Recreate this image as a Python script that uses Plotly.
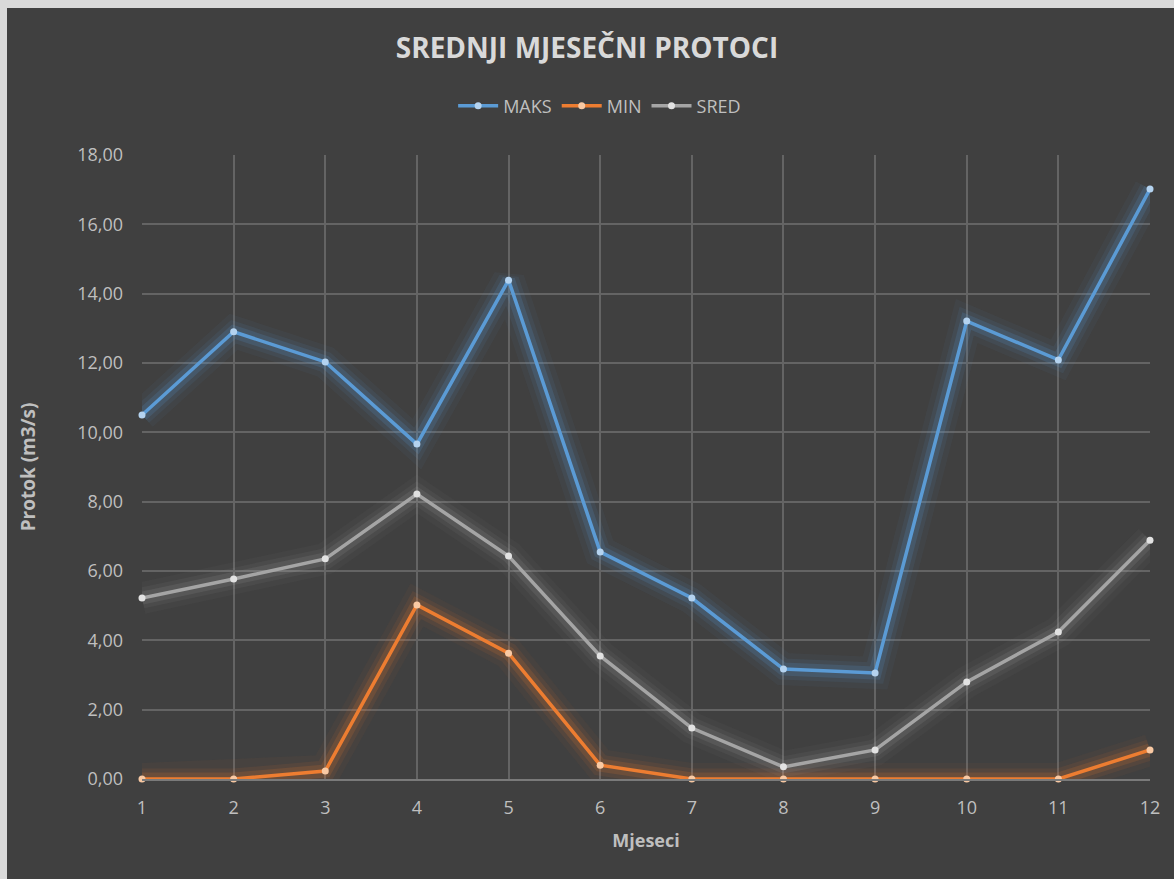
import plotly.graph_objects as go

# Monthly flow data (m3/s)
months = [1, 2, 3, 4, 5, 6, 7, 8, 9, 10, 11, 12]
maks = [10.50, 12.90, 12.03, 9.66, 14.39, 6.55, 5.22, 3.17, 3.06, 13.21, 12.09, 17.02]
minimum = [0.00, 0.00, 0.23, 5.02, 3.63, 0.40, 0.00, 0.00, 0.00, 0.00, 0.00, 0.84]
sred = [5.22, 5.77, 6.35, 8.22, 6.43, 3.55, 1.47, 0.35, 0.84, 2.80, 4.24, 6.89]

# name, values, line colour, marker colour, glow rgb, glow strength
series = [
    ("MAKS", maks, "#5b9bd5", "#b4d3f0", "91,155,213", 1.0),
    ("MIN", minimum, "#ed7d31", "#f9c9a3", "237,125,49", 0.9),
    ("SRED", sred, "#a5a5a5", "#e2e2e2", "200,200,200", 0.6),
]

BG = "#404040"
TXT = "#d9d9d9"
TICK = "#bfbfbf"
FONT = "Open Sans, Liberation Sans, sans-serif"

fig = go.Figure()

# soft glow underneath each line
for name, vals, line_c, mark_c, rgb, k in series:
    for w, a in [(32, 0.05), (21, 0.09), (13, 0.17)]:
        fig.add_trace(go.Scatter(
            x=months, y=vals, mode="lines",
            line=dict(color=f"rgba({rgb},{a * k:.3f})", width=w),
            hoverinfo="skip", showlegend=False, cliponaxis=False,
        ))

for name, vals, line_c, mark_c, rgb, k in series:
    fig.add_trace(go.Scatter(
        x=months, y=vals, name=name, mode="lines+markers",
        line=dict(color=line_c, width=3.5),
        marker=dict(color=mark_c, size=7),
        cliponaxis=False,
    ))

fig.update_layout(
    width=1174, height=879,
    margin=dict(l=142, r=24, t=155, b=100),
    paper_bgcolor="#d9d9d9",
    plot_bgcolor=BG,
    separators=",.",
    font=dict(family=FONT, color=TICK, size=18),
    title=dict(
        text="<b>SREDNJI MJESEČNI PROTOCI</b>",
        x=0.5, xref="container", xanchor="center",
        y=1 - 48 / 879, yref="container", yanchor="middle",
        font=dict(size=28, color=TXT, family=FONT),
    ),
    legend=dict(
        orientation="h", x=0.454, xanchor="center",
        y=1 + (155 - 106) / 624, yanchor="middle",
        font=dict(size=18, color=TICK),
        bgcolor="rgba(0,0,0,0)", itemwidth=40,
    ),
    shapes=[dict(
        type="rect", xref="paper", yref="paper", layer="below",
        x0=(7 - 142) / 1008, x1=1.2, y0=-0.5, y1=1 + (155 - 8) / 624,
        fillcolor=BG, line=dict(width=0),
    )],
)

fig.update_xaxes(
    range=[1, 12], tickvals=months, showgrid=True,
    gridcolor="#646464", gridwidth=1.5, zeroline=False,
    showline=True, linecolor="#7a7a7a", linewidth=1.5,
    ticks="", ticklabelstandoff=12,
    tickfont=dict(size=18, color=TICK),
    title=dict(text="<b>Mjeseci</b>", font=dict(size=18, color=TICK), standoff=16),
)
fig.update_yaxes(
    range=[0, 18], dtick=2, tickformat=".2f", showgrid=True,
    gridcolor="#646464", gridwidth=1.5, zeroline=False,
    showline=False, ticks="", ticklabelstandoff=18,
    tickfont=dict(size=18, color=TICK),
    title=dict(text="<b>Protok (m3/s)</b>", font=dict(size=19, color=TICK), standoff=36),
)

fig.write_html("out.html")
